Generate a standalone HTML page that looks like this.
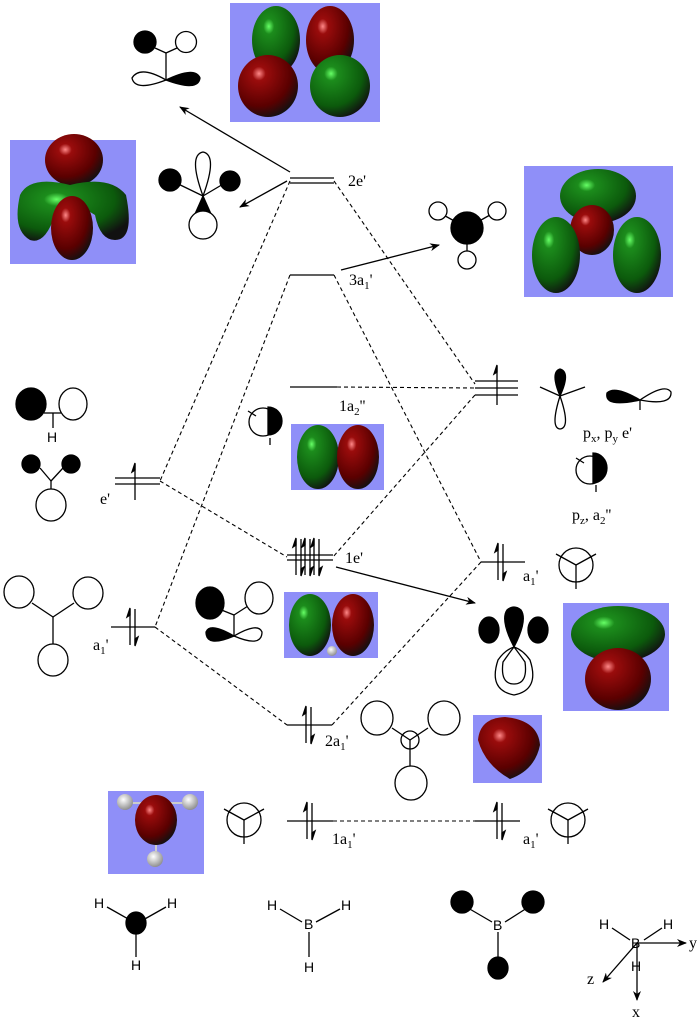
<!DOCTYPE html>
<html><head><meta charset="utf-8"><style>
html,body{margin:0;padding:0;background:#fff}
svg{display:block}
text{font-family:"Liberation Serif",serif;font-size:16px;fill:#000}
.s{font-family:"Liberation Sans",sans-serif;font-size:14px}
</style></head><body>
<svg width="700" height="1022" viewBox="0 0 700 1022" xmlns="http://www.w3.org/2000/svg">
<defs>
<marker id="ah" markerWidth="10" markerHeight="8" refX="9" refY="4" orient="auto" markerUnits="userSpaceOnUse"><path d="M0,0 L10,4 L0,8 L3,4z" fill="#000"/></marker>
<radialGradient id="gg" cx="0.35" cy="0.3" r="0.75"><stop offset="0" stop-color="#6f6"/><stop offset="0.15" stop-color="#1c8c1c"/><stop offset="0.7" stop-color="#0c5a0c"/><stop offset="1" stop-color="#111"/></radialGradient>
<radialGradient id="rg" cx="0.35" cy="0.3" r="0.75"><stop offset="0" stop-color="#f88"/><stop offset="0.15" stop-color="#9a0c0c"/><stop offset="0.7" stop-color="#5a0000"/><stop offset="1" stop-color="#111"/></radialGradient>
<radialGradient id="wg" cx="0.4" cy="0.35" r="0.7"><stop offset="0" stop-color="#fff"/><stop offset="1" stop-color="#888"/></radialGradient>
<g id="pair" stroke="#000" stroke-width="1.3" fill="#000"><line x1="0" y1="-18" x2="0" y2="18"/><path d="M0,-19 l-3,9 l3,-2z"/><line x1="5" y1="-18" x2="5" y2="18"/><path d="M5,19 l3,-9 l-3,2z"/></g>
<g id="merc" stroke="#000" stroke-width="1.3"><circle cx="0" cy="0" r="17" fill="#fff"/><line x1="0" y1="0" x2="-20" y2="-11"/><line x1="0" y1="0" x2="20" y2="-11"/><line x1="0" y1="0" x2="0" y2="24"/></g>
</defs>
<g fill="none" stroke="#000" stroke-width="1.3">
<line x1="290" y1="178" x2="334" y2="178"/><line x1="290" y1="183" x2="334" y2="183"/>
<line x1="290" y1="275" x2="334" y2="275"/>
<line x1="290" y1="387" x2="337" y2="387"/>
<line x1="475" y1="381" x2="518" y2="381"/><line x1="475" y1="388" x2="518" y2="388"/><line x1="475" y1="395" x2="518" y2="395"/>
<line x1="115" y1="478" x2="160" y2="478"/><line x1="115" y1="484" x2="160" y2="484"/>
<line x1="287" y1="555" x2="333" y2="555"/><line x1="287" y1="560" x2="333" y2="560"/>
<line x1="481" y1="562" x2="525" y2="562"/>
<line x1="111" y1="627" x2="155" y2="627"/>
<line x1="287" y1="725" x2="332" y2="725"/>
<line x1="287" y1="821" x2="333" y2="821"/>
<line x1="475" y1="821" x2="520" y2="821"/>
</g>
<g stroke="#000" stroke-width="1.3" fill="#000">
<line x1="497" y1="366" x2="497" y2="405"/><path d="M497,365 l-3,9 l3,-2z"/>
<line x1="135" y1="464" x2="135" y2="500"/><path d="M135,463 l-3,9 l3,-2z"/>
</g>
<use href="#pair" x="296" y="557"/><use href="#pair" x="305" y="557"/><use href="#pair" x="314" y="557"/>
<use href="#pair" x="498" y="562"/>
<use href="#pair" x="130" y="627"/>
<use href="#pair" x="306" y="725"/>
<use href="#pair" x="307" y="821"/>
<use href="#pair" x="497" y="821"/>
<g fill="none" stroke="#000" stroke-width="1.1" stroke-dasharray="4,3">
<line x1="290" y1="181" x2="160" y2="481"/>
<line x1="334" y1="181" x2="475" y2="384"/>
<line x1="290" y1="275" x2="155" y2="627"/>
<line x1="334" y1="275" x2="481" y2="562"/>
<line x1="337" y1="387" x2="475" y2="388"/>
<line x1="475" y1="395" x2="333" y2="557"/>
<line x1="160" y1="481" x2="287" y2="557"/>
<line x1="155" y1="627" x2="287" y2="725"/>
<line x1="481" y1="562" x2="332" y2="725"/>
<line x1="333" y1="821" x2="475" y2="821"/>
</g>
<g stroke="#000" stroke-width="1.3" fill="none" marker-end="url(#ah)">
<line x1="290" y1="172" x2="180" y2="107"/>
<line x1="287" y1="181" x2="240" y2="207"/>
<line x1="341" y1="270" x2="439" y2="245"/>
<line x1="336" y1="567" x2="475" y2="603"/>
</g>
<text x="348" y="186">2e'</text>
<text x="349" y="285">3a<tspan font-size="11" dy="4">1</tspan><tspan dy="-4">'</tspan></text>
<text x="339" y="411">1a<tspan font-size="11" dy="4">2</tspan><tspan dy="-4">''</tspan></text>
<text x="100" y="504">e'</text>
<text x="345" y="563">1e'</text>
<text x="523" y="581">a<tspan font-size="11" dy="4">1</tspan><tspan dy="-4">'</tspan></text>
<text x="93" y="650">a<tspan font-size="11" dy="4">1</tspan><tspan dy="-4">'</tspan></text>
<text x="325" y="746">2a<tspan font-size="11" dy="4">1</tspan><tspan dy="-4">'</tspan></text>
<text x="332" y="844">1a<tspan font-size="11" dy="4">1</tspan><tspan dy="-4">'</tspan></text>
<text x="523" y="844">a<tspan font-size="11" dy="4">1</tspan><tspan dy="-4">'</tspan></text>
<text x="583" y="438">p<tspan font-size="11" dy="4">x</tspan><tspan dy="-4">, p</tspan><tspan font-size="11" dy="4">y</tspan><tspan dy="-4"> e'</tspan></text>
<text x="572" y="520">p<tspan font-size="11" dy="4">z</tspan><tspan dy="-4">, a</tspan><tspan font-size="11" dy="4">2</tspan><tspan dy="-4">''</tspan></text>
<g>
<rect x="230" y="3" width="150" height="119" fill="#8f8ff8"/>
<ellipse cx="276" cy="40" rx="24" ry="34" fill="url(#gg)"/><ellipse cx="330" cy="40" rx="24" ry="34" fill="url(#rg)"/>
<ellipse cx="268" cy="86" rx="30" ry="31" fill="url(#rg)"/><ellipse cx="340" cy="86" rx="30" ry="31" fill="url(#gg)"/>
<rect x="10" y="140" width="126" height="124" fill="#8f8ff8"/>
<ellipse cx="74" cy="160" rx="29" ry="26" fill="url(#rg)"/>
<path d="M20,195 Q30,175 70,185 Q110,175 126,195 Q135,240 115,240 Q100,240 95,215 Q74,200 55,215 Q45,245 30,240 Q12,230 20,195z" fill="url(#gg)"/>
<ellipse cx="72" cy="228" rx="21" ry="32" fill="url(#rg)"/>
<rect x="524" y="166" width="149" height="131" fill="#8f8ff8"/>
<ellipse cx="598" cy="196" rx="38" ry="27" fill="url(#gg)"/>
<ellipse cx="592" cy="230" rx="22" ry="25" fill="url(#rg)"/>
<ellipse cx="556" cy="255" rx="24" ry="38" fill="url(#gg)"/><ellipse cx="637" cy="255" rx="24" ry="38" fill="url(#gg)"/>
<rect x="291" y="424" width="93" height="66" fill="#8f8ff8"/>
<ellipse cx="318" cy="457" rx="21" ry="32" fill="url(#gg)"/><ellipse cx="358" cy="457" rx="21" ry="32" fill="url(#rg)"/>
<rect x="284" y="592" width="94" height="66" fill="#8f8ff8"/>
<ellipse cx="310" cy="625" rx="21" ry="31" fill="url(#gg)"/><ellipse cx="353" cy="625" rx="21" ry="31" fill="url(#rg)"/>
<circle cx="332" cy="651" r="5" fill="url(#wg)"/>
<rect x="563" y="603" width="106" height="108" fill="#8f8ff8"/>
<ellipse cx="618" cy="634" rx="47" ry="28" fill="url(#gg)"/>
<ellipse cx="618" cy="679" rx="33" ry="31" fill="url(#rg)"/>
<rect x="473" y="715" width="69" height="68" fill="#8f8ff8"/>
<path d="M478,740 Q480,718 505,717 Q538,720 540,745 Q535,770 510,779 Q485,765 478,740z" fill="url(#rg)"/>
<rect x="108" y="791" width="96" height="83" fill="#8f8ff8"/>
<line x1="125" y1="803" x2="185" y2="803" stroke="#ccc" stroke-width="2"/>
<line x1="156" y1="830" x2="156" y2="855" stroke="#ccc" stroke-width="2"/>
<ellipse cx="156" cy="820" rx="21" ry="25" fill="url(#rg)"/>
<circle cx="125" cy="802" r="8" fill="url(#wg)"/><circle cx="190" cy="802" r="8" fill="url(#wg)"/><circle cx="155" cy="859" r="8" fill="url(#wg)"/>
</g>
<g stroke="#000" stroke-width="1.3">
<line x1="155" y1="48" x2="166" y2="53"/><line x1="177" y1="48" x2="166" y2="53"/><line x1="166" y1="53" x2="166" y2="80"/>
<circle cx="145" cy="42" r="11" fill="#000"/><circle cx="186" cy="42" r="10.5" fill="#fff"/>
<path d="M166,80 Q140,65 132,78 Q135,92 166,80z" fill="#fff"/><path d="M166,80 Q195,66 200,78 Q198,92 166,80z" fill="#000"/>
<line x1="170" y1="180" x2="203" y2="196"/><line x1="230" y1="180" x2="203" y2="196"/>
<path d="M203,196 Q188,155 203,152 Q218,155 203,196z" fill="#fff"/>
<circle cx="170" cy="180" r="11" fill="#000"/><circle cx="230" cy="181" r="10" fill="#000"/>
<path d="M203,196 L195,214 L211,214z" fill="#000"/>
<circle cx="203" cy="225" r="14" fill="#fff"/>
<line x1="438" y1="212" x2="467" y2="228"/><line x1="497" y1="211" x2="467" y2="228"/><line x1="467" y1="228" x2="467" y2="258"/>
<circle cx="438" cy="211" r="9" fill="#fff"/><circle cx="497" cy="211" r="9" fill="#fff"/><circle cx="467" cy="260" r="9" fill="#fff"/>
<circle cx="467" cy="228" r="16" fill="#000"/>
<line x1="44" y1="413" x2="53" y2="413"/><line x1="53" y1="413" x2="61" y2="413"/><line x1="53" y1="413" x2="53" y2="428"/>
<ellipse cx="31" cy="404" rx="15" ry="16" fill="#000"/><ellipse cx="73" cy="404" rx="14" ry="16" fill="#fff"/>
<line x1="40" y1="468" x2="51" y2="481"/><line x1="63" y1="468" x2="51" y2="481"/><line x1="51" y1="481" x2="51" y2="490"/>
<circle cx="31" cy="464" r="9" fill="#000"/><circle cx="71" cy="464" r="9" fill="#000"/>
<ellipse cx="51" cy="505" rx="15" ry="16" fill="#fff"/>
<line x1="248" y1="411" x2="256" y2="416"/><line x1="270" y1="438" x2="270" y2="445"/>
<path d="M268,407 A14,14 0 0 1 268,435z" fill="#000"/>
<circle cx="263" cy="422" r="14" fill="none"/>
<line x1="540" y1="387" x2="560" y2="396"/><line x1="585" y1="387" x2="560" y2="396"/>
<path d="M560,396 Q550,372 560,369 Q571,372 560,396z" fill="#000"/>
<path d="M560,396 Q550,428 560,429 Q571,428 560,396z" fill="#fff"/>
<path d="M640,400 Q615,385 607,393 Q604,408 640,400z" fill="#000"/>
<path d="M640,400 Q665,383 671,392 Q672,406 640,400z" fill="#fff"/>
<line x1="640" y1="400" x2="640" y2="410"/>
<line x1="576" y1="458" x2="584" y2="463"/><line x1="596" y1="485" x2="596" y2="492"/>
<path d="M593,453 A14,15 0 0 1 593,483z" fill="#000"/>
<circle cx="590" cy="470" r="14" fill="none"/>
<line x1="32" y1="603" x2="53" y2="617"/><line x1="74" y1="603" x2="53" y2="617"/><line x1="53" y1="617" x2="53" y2="645"/>
<ellipse cx="19" cy="592" rx="15" ry="16" fill="#fff"/><ellipse cx="88" cy="593" rx="15" ry="16" fill="#fff"/><ellipse cx="53" cy="660" rx="15" ry="16" fill="#fff"/>
<line x1="219" y1="609" x2="234" y2="615"/><line x1="248" y1="606" x2="234" y2="615"/><line x1="234" y1="615" x2="234" y2="636"/>
<ellipse cx="210" cy="603" rx="14" ry="16" fill="#000"/><ellipse cx="259" cy="598" rx="14" ry="16" fill="#fff"/>
<path d="M234,636 Q210,622 206,632 Q206,648 234,636z" fill="#000"/>
<path d="M234,636 Q258,622 262,632 Q262,648 234,636z" fill="#fff"/>
<path d="M514,695 Q488,690 498,660 Q505,650 514,647 Q523,650 530,660 Q540,690 514,695z" fill="#fff"/>
<path d="M514,684 Q500,684 503,662 Q510,652 514,647 Q518,652 525,662 Q528,684 514,684z" fill="#fff"/>
<ellipse cx="489" cy="630" rx="10" ry="13" fill="#000"/><ellipse cx="538" cy="630" rx="10" ry="13" fill="#000"/>
<path d="M514,647 Q500,620 507,610 Q514,604 521,610 Q528,620 514,647z" fill="#000"/>
<line x1="392" y1="728" x2="410" y2="740"/><line x1="428" y1="728" x2="410" y2="740"/><line x1="410" y1="740" x2="410" y2="770"/>
<ellipse cx="377" cy="718" rx="16" ry="17" fill="#fff"/><ellipse cx="444" cy="718" rx="16" ry="17" fill="#fff"/><ellipse cx="411" cy="783" rx="16" ry="17" fill="#fff"/>
<circle cx="410" cy="740" r="9" fill="none"/>
<line x1="107" y1="907" x2="130" y2="920"/><line x1="166" y1="907" x2="143" y2="920"/><line x1="136" y1="925" x2="136" y2="957"/>
<ellipse cx="136" cy="923" rx="10" ry="11" fill="#000"/>
<line x1="280" y1="909" x2="302" y2="922"/><line x1="340" y1="909" x2="316" y2="922"/><line x1="309" y1="932" x2="309" y2="957"/>
<line x1="468" y1="908" x2="492" y2="922"/><line x1="527" y1="908" x2="505" y2="922"/><line x1="498" y1="932" x2="498" y2="958"/>
<ellipse cx="462" cy="902" rx="11" ry="11" fill="#000"/><ellipse cx="533" cy="902" rx="11" ry="11" fill="#000"/><ellipse cx="498" cy="968" rx="10" ry="11" fill="#000"/>
<line x1="612" y1="928" x2="630" y2="940"/><line x1="662" y1="928" x2="644" y2="940"/>
</g>
<use href="#merc" x="576" y="565"/>
<use href="#merc" x="244" y="820"/>
<use href="#merc" x="568" y="820"/>
<g stroke="#000" stroke-width="1.3" marker-end="url(#ah)">
<line x1="637" y1="943" x2="686" y2="943"/>
<line x1="637" y1="943" x2="603" y2="982"/>
<line x1="637" y1="943" x2="637" y2="1000"/>
</g>
<text class="s" x="94" y="908">H</text><text class="s" x="167" y="908">H</text><text class="s" x="131" y="970">H</text>
<text class="s" x="47" y="442">H</text>
<text class="s" x="267" y="910">H</text><text class="s" x="341" y="910">H</text><text class="s" x="304" y="929">B</text><text class="s" x="304" y="972">H</text>
<text class="s" x="493" y="930">B</text>
<text class="s" x="599" y="929">H</text><text class="s" x="663" y="929">H</text><text class="s" x="631" y="948">B</text><text class="s" x="631" y="971">H</text>
<text x="689" y="948" font-size="14">y</text><text x="587" y="984" font-size="14">z</text><text x="632" y="1017" font-size="14">x</text>
</svg>
</body></html>
